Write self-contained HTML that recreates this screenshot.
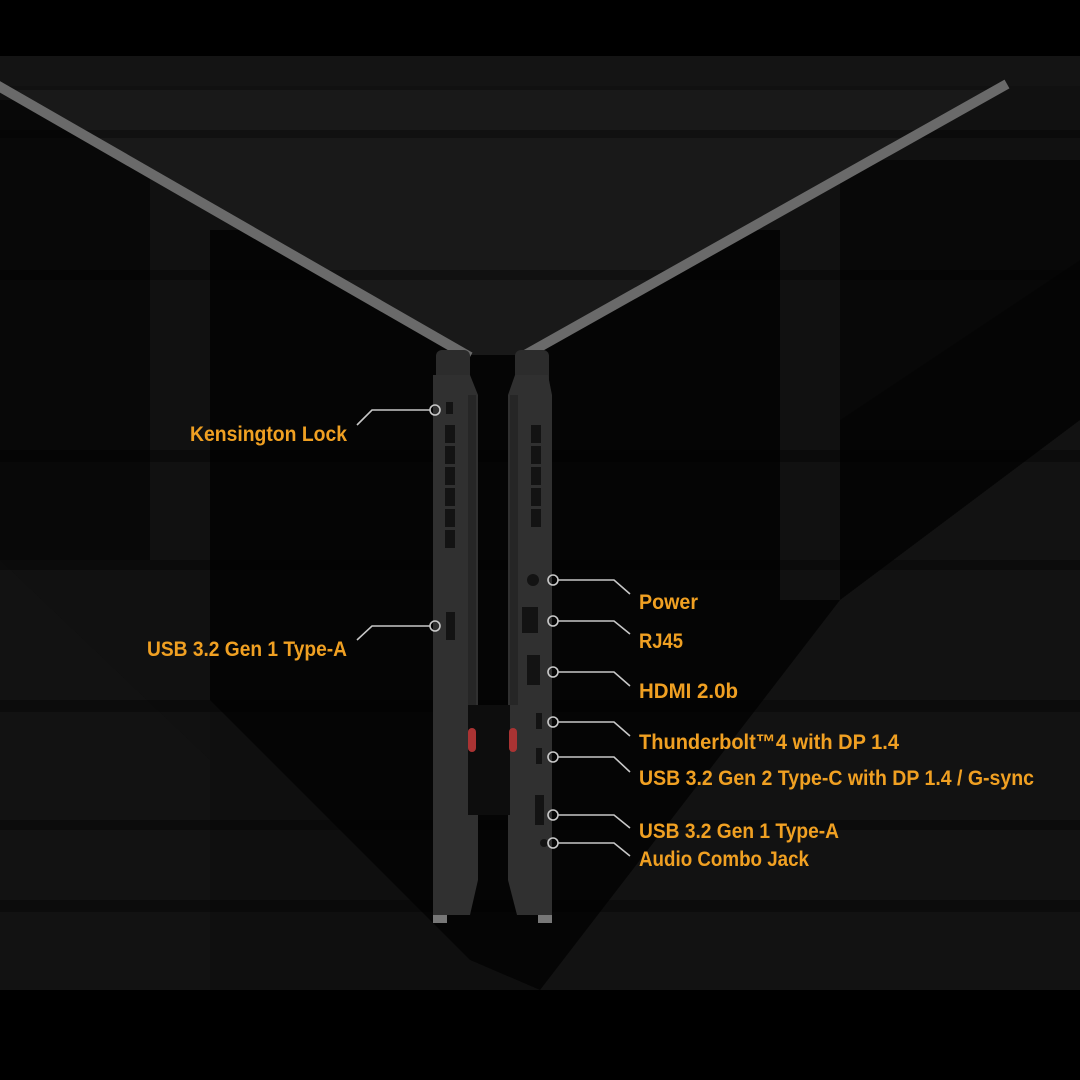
<!DOCTYPE html>
<html><head><meta charset="utf-8"><style>
html,body{margin:0;padding:0;background:#000;}
svg{display:block}
text{font-family:"Liberation Sans",sans-serif;font-weight:bold;fill:#f0a022;font-size:21px}
</style></head><body>
<svg width="1080" height="1080" viewBox="0 0 1080 1080">
<rect x="0" y="0" width="1080" height="1080" fill="#000"/>
<rect x="0" y="56" width="1080" height="934" fill="#111"/>
<polygon points="0,100 150,100 150,560 0,560" fill="#080808"/>
<polygon points="210,230 780,230 780,600 840,600 840,420 1080,260 1080,990 540,990 470,960 210,760" fill="#050505"/>
<polygon points="840,160 1080,160 1080,260 840,420" fill="#080808"/>
<polygon points="0,560 210,760 210,990 0,990" fill="#121212"/>
<polygon points="840,600 1080,420 1080,990 540,990" fill="#121212"/>
<polygon points="210,700 470,960 540,990 210,990" fill="#0f0f0f"/>
<polygon points="0,90 1000,90 520,355 470,355" fill="#191919"/>
<rect x="0" y="56" width="1080" height="30" fill="#141414"/>
<g fill="#000" opacity="0.3">
<rect x="0" y="130" width="1080" height="8"/><rect x="0" y="270" width="1080" height="10"/>
<rect x="0" y="450" width="1080" height="12"/><rect x="0" y="560" width="1080" height="10"/>
<rect x="0" y="700" width="1080" height="12"/><rect x="0" y="820" width="1080" height="10"/>
<rect x="0" y="900" width="1080" height="12"/>
</g>
<line x1="-5" y1="84" x2="470" y2="357" stroke="#6a6a6a" stroke-width="10"/>
<line x1="1007" y1="84" x2="518" y2="359" stroke="#6a6a6a" stroke-width="10"/>
<rect x="436" y="350" width="34" height="40" rx="6" fill="#2c2c2c"/>
<rect x="515" y="350" width="34" height="40" rx="6" fill="#2c2c2c"/>
<polygon points="433,375 470,375 478,395 478,880 470,915 433,915" fill="#303030"/>
<rect x="468" y="395" width="8" height="310" fill="#262626"/>
<rect x="433" y="915" width="14" height="8" fill="#777"/>
<g fill="#131313">
<rect x="445" y="425" width="10" height="18"/><rect x="445" y="446" width="10" height="18"/><rect x="445" y="467" width="10" height="18"/><rect x="445" y="488" width="10" height="18"/><rect x="445" y="509" width="10" height="18"/><rect x="445" y="530" width="10" height="18"/>
<rect x="446" y="402" width="7" height="12"/><rect x="446" y="612" width="9" height="28"/>
</g>
<polygon points="515,375 548,375 552,395 552,915 517,915 508,880 508,395" fill="#303030"/>
<rect x="510" y="395" width="8" height="310" fill="#262626"/>
<rect x="538" y="915" width="14" height="8" fill="#777"/>
<rect x="468" y="705" width="42" height="110" fill="#0d0d0d"/>
<rect x="468" y="728" width="8" height="24" rx="4" fill="#a33"/>
<rect x="509" y="728" width="8" height="24" rx="4" fill="#a33"/>
<g fill="#131313">
<rect x="531" y="425" width="10" height="18"/><rect x="531" y="446" width="10" height="18"/><rect x="531" y="467" width="10" height="18"/><rect x="531" y="488" width="10" height="18"/><rect x="531" y="509" width="10" height="18"/>
<circle cx="533" cy="580" r="6"/><rect x="522" y="607" width="16" height="26"/><rect x="527" y="655" width="13" height="30"/>
<rect x="536" y="713" width="6" height="16"/><rect x="536" y="748" width="6" height="16"/><rect x="535" y="795" width="9" height="30"/><circle cx="544" cy="843" r="4"/>
</g>
<g fill="none" stroke="#c8c8c8" stroke-width="1.6">
<circle cx="435" cy="410" r="5"/><polyline points="430,410 372,410 357,425"/>
<circle cx="435" cy="626" r="5"/><polyline points="430,626 372,626 357,640"/>
<circle cx="553" cy="580" r="5"/><polyline points="558,580 614,580 630,594"/>
<circle cx="553" cy="621" r="5"/><polyline points="558,621 614,621 630,634"/>
<circle cx="553" cy="672" r="5"/><polyline points="558,672 614,672 630,686"/>
<circle cx="553" cy="722" r="5"/><polyline points="558,722 614,722 630,736"/>
<circle cx="553" cy="757" r="5"/><polyline points="558,757 614,757 630,772"/>
<circle cx="553" cy="815" r="5"/><polyline points="558,815 614,815 630,828"/>
<circle cx="553" cy="843" r="5"/><polyline points="558,843 614,843 630,856"/>
</g>
<text x="190" y="441" textLength="157" lengthAdjust="spacingAndGlyphs">Kensington Lock</text>
<text x="147" y="656" textLength="200" lengthAdjust="spacingAndGlyphs">USB 3.2 Gen 1 Type-A</text>
<text x="639" y="609" textLength="59" lengthAdjust="spacingAndGlyphs">Power</text>
<text x="639" y="648" textLength="44" lengthAdjust="spacingAndGlyphs">RJ45</text>
<text x="639" y="698" textLength="99" lengthAdjust="spacingAndGlyphs">HDMI 2.0b</text>
<text x="639" y="749" textLength="260" lengthAdjust="spacingAndGlyphs">Thunderbolt™4 with DP 1.4</text>
<text x="639" y="785" textLength="395" lengthAdjust="spacingAndGlyphs">USB 3.2 Gen 2 Type-C with DP 1.4 / G-sync</text>
<text x="639" y="838" textLength="200" lengthAdjust="spacingAndGlyphs">USB 3.2 Gen 1 Type-A</text>
<text x="639" y="866" textLength="170" lengthAdjust="spacingAndGlyphs">Audio Combo Jack</text>
</svg>
</body></html>
